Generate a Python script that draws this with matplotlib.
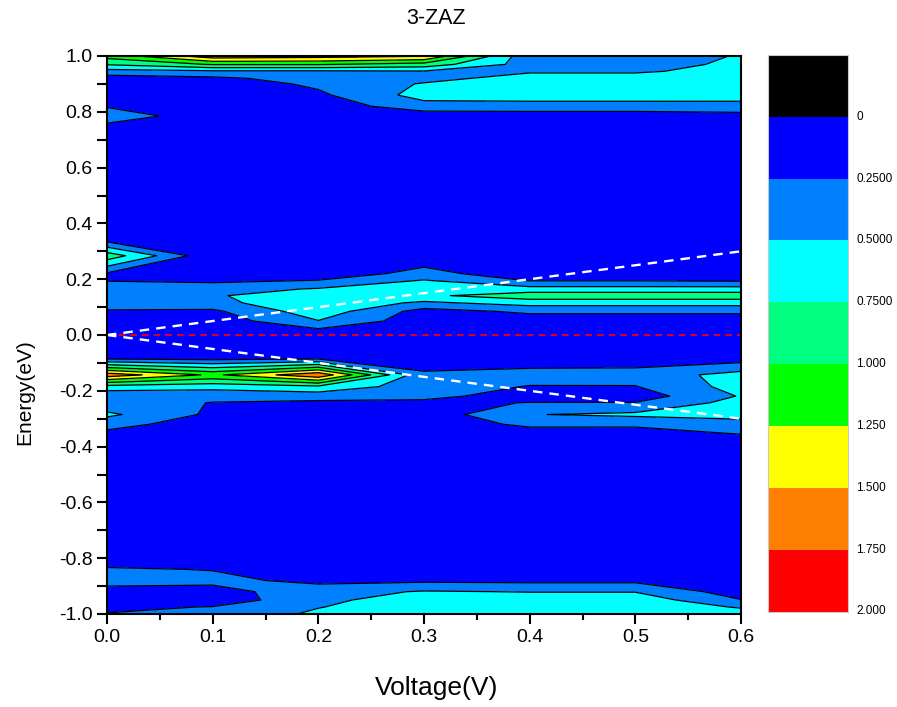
import matplotlib
matplotlib.use("Agg")
import matplotlib.pyplot as plt
from matplotlib.ticker import MultipleLocator, FormatStrFormatter
import numpy as np

plt.rcParams['font.family'] = ['Liberation Sans', 'DejaVu Sans']
plt.rcParams['axes.unicode_minus'] = False

# bias voltage grid (V) and energy rows (eV, top to bottom)
voltage = [0.0, 0.1, 0.2, 0.3, 0.4, 0.5, 0.6]
energy = [1.00, 0.97, 0.945, 0.92, 0.90, 0.86, 0.82, 0.785, 0.75, 0.70,
          0.40, 0.34, 0.284, 0.22, 0.195, 0.165, 0.141, 0.115, 0.085, 0.05,
          0.0, -0.08, -0.143, -0.185, -0.219, -0.243, -0.285, -0.32, -0.36,
          -0.40, -0.80, -0.84, -0.88, -0.92, -0.95, -0.975, -1.00]

# transmission, one row per energy, one column per voltage
transmission = [
    [1.10, 1.65, 1.60, 1.52, 0.30, 0.35, 0.52],
    [0.77, 1.02, 1.02, 0.90, 0.38, 0.40, 0.55],
    [0.40, 0.45, 0.45, 0.48, 0.47, 0.47, 0.58],
    [0.13, 0.20, 0.35, 0.42, 0.60, 0.60, 0.60],
    [0.10, 0.10, 0.30, 0.52, 0.65, 0.65, 0.65],
    [0.10, 0.10, 0.20, 0.60, 0.60, 0.60, 0.60],
    [0.22, 0.05, 0.10, 0.40, 0.42, 0.42, 0.42],
    [0.45, 0.05, 0.10, 0.10, 0.10, 0.10, 0.15],
    [0.18, 0.05, 0.10, 0.10, 0.10, 0.10, 0.10],
    [0.10, 0.10, 0.10, 0.10, 0.10, 0.10, 0.10],
    [0.10, 0.10, 0.10, 0.10, 0.10, 0.10, 0.10],
    [0.17, 0.10, 0.10, 0.10, 0.10, 0.10, 0.10],
    [0.90, 0.05, 0.10, 0.10, 0.10, 0.10, 0.10],
    [0.22, 0.10, 0.10, 0.334, 0.10, 0.10, 0.10],
    [0.24, 0.20, 0.26, 0.52, 0.24, 0.24, 0.22],
    [0.38, 0.40, 0.52, 0.62, 0.60, 0.60, 0.60],
    [0.45, 0.47, 0.68, 0.70, 0.90, 0.90, 0.90],
    [0.40, 0.42, 0.70, 0.45, 0.60, 0.60, 0.60],
    [0.22, 0.20, 0.65, 0.15, 0.30, 0.30, 0.30],
    [0.10, 0.10, 0.49, 0.10, 0.10, 0.10, 0.10],
    [0.10, 0.10, 0.05, 0.10, 0.10, 0.10, 0.10],
    [0.10, 0.10, 0.10, 0.10, 0.10, 0.10, 0.10],
    [1.65, 1.20, 1.70, 0.29, 0.34, 0.35, 0.60],
    [0.65, 0.60, 0.70, 0.35, 0.24, 0.24, 0.60],
    [0.30, 0.30, 0.35, 0.33, 0.12, 0.12, 0.52],
    [0.32, 0.245, 0.20, 0.18, 0.26, 0.26, 0.60],
    [0.55, 0.20, 0.10, 0.10, 0.49, 0.55, 0.60],
    [0.35, 0.10, 0.10, 0.10, 0.30, 0.30, 0.39],
    [0.15, 0.10, 0.10, 0.10, 0.10, 0.10, 0.234],
    [0.10, 0.10, 0.10, 0.10, 0.10, 0.10, 0.10],
    [0.10, 0.10, 0.10, 0.10, 0.10, 0.10, 0.10],
    [0.28, 0.24, 0.10, 0.10, 0.10, 0.10, 0.10],
    [0.32, 0.32, 0.18, 0.20, 0.19, 0.19, 0.10],
    [0.18, 0.15, 0.40, 0.52, 0.49, 0.49, 0.12],
    [0.15, 0.10, 0.43, 0.65, 0.65, 0.65, 0.26],
    [0.20, 0.26, 0.49, 0.65, 0.65, 0.65, 0.48],
    [0.26, 0.30, 0.55, 0.65, 0.65, 0.65, 0.60],
]

levels = [0, 0.25, 0.5, 0.75, 1.0, 1.25, 1.5, 1.75, 2.0]
level_colors = ['#0000ff', '#0080ff', '#00ffff', '#00ff80',
                '#00ff00', '#ffff00', '#ff8000', '#ff0000']
bar_labels = ['0', '0.2500', '0.5000', '0.7500', '1.000',
              '1.250', '1.500', '1.750', '2.000']

# bias window and Fermi level
bias = [0.0, 0.6]
window_top = [0.0, 0.3]
window_bottom = [0.0, -0.3]
fermi = [0.0, 0.0]

fig = plt.figure(figsize=(8.97, 7.07), dpi=100)
ax = fig.add_axes([107 / 897, 93 / 707, 634 / 897, 558 / 707])

E = np.array(energy)[::-1]
Z = np.array(transmission)[::-1]
ax.contourf(voltage, E, Z, levels=levels, colors=level_colors)
ax.contour(voltage, E, Z, levels=levels[1:-1], colors='k', linewidths=0.9)

ax.plot(bias, fermi, color='red', ls=(0, (4, 3)), lw=1.2)
ax.plot(bias, window_top, color='white', ls=(0, (4, 3)), lw=1.7)
ax.plot(bias, window_bottom, color='white', ls=(0, (4, 3)), lw=1.7)

ax.set_xlim(0, 0.6)
ax.set_ylim(-1, 1)
ax.xaxis.set_major_locator(MultipleLocator(0.1))
ax.xaxis.set_minor_locator(MultipleLocator(0.05))
ax.yaxis.set_major_locator(MultipleLocator(0.2))
ax.yaxis.set_minor_locator(MultipleLocator(0.1))
ax.xaxis.set_major_formatter(FormatStrFormatter('%.1f'))
ax.yaxis.set_major_formatter(FormatStrFormatter('%.1f'))
ax.tick_params(which='both', direction='out', width=1.5, top=False,
               right=False, labelsize=14, pad=3.5)
ax.tick_params(which='major', length=7)
ax.tick_params(axis='x', which='minor', length=4)
ax.tick_params(axis='y', which='minor', length=7)
for s in ax.spines.values():
    s.set_linewidth(1.5)

fig.text(436 / 897, 1 - 18 / 707, '3-ZAZ', ha='center', va='center', fontsize=15.5)
fig.text(437 / 897, 1 - 688 / 707, 'Voltage(V)', ha='center', va='center', fontsize=19)
fig.text(25 / 897, 1 - 392 / 707, 'Energy(eV)', ha='center', va='center',
         rotation=90, fontsize=15)

# colour scale, black block on top, lowest level first
cax = fig.add_axes([768 / 897, 95.5 / 707, 80 / 897, 556.5 / 707])
bar_colors = ['#000000'] + level_colors
for i, c in enumerate(bar_colors):
    cax.bar(0.5, 1, bottom=i, width=1, color=c)
cax.set_xlim(0, 1)
cax.set_ylim(9, 0)
cax.set_xticks([])
cax.set_yticks([])
for s in cax.spines.values():
    s.set_color('#c8c8c8')
    s.set_linewidth(0.8)
for i, lab in enumerate(bar_labels):
    cax.text(1.1, i + 1, lab, transform=cax.get_yaxis_transform(),
             ha='left', va='center', fontsize=8.5)

fig.savefig('out.png', dpi=100)
